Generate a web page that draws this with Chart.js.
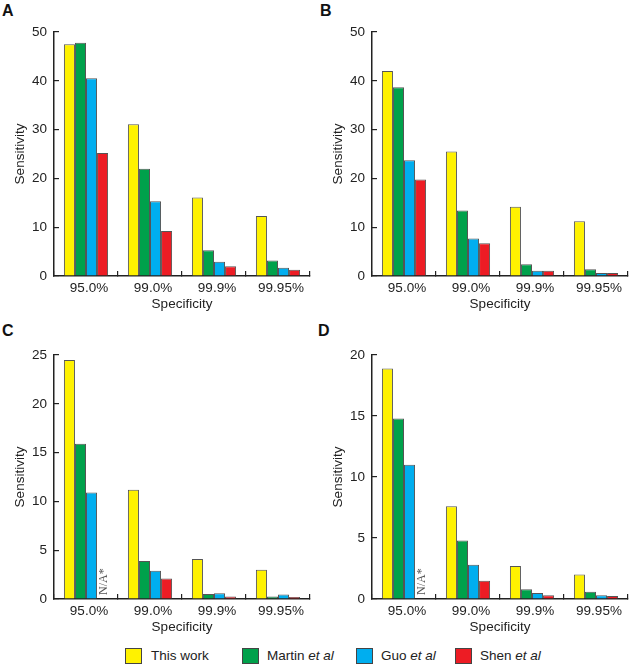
<!DOCTYPE html>
<html>
<head>
<meta charset="utf-8">
<script src="https://cdn.jsdelivr.net/npm/chart.js@4.4.0/dist/chart.umd.min.js"></script>
<style>
    body { margin: 0; background: #fff; width: 630px; height: 668px; position: relative; overflow: hidden; font-family: "Liberation Sans", Arial, sans-serif; color: #222; }
    canvas { position: absolute; }
    .tag { position: absolute; font-weight: bold; font-size: 16px; line-height: 16px; color: #111; }
    .box { position: absolute; top: 648px; width: 17px; height: 16px; box-sizing: border-box; border: 1px solid #444; }
    .key { position: absolute; top: 648px; font-size: 13.5px; line-height: 16px; white-space: nowrap; }
</style>
</head>
<body>
<div class="tag" style="left:2px;top:3px">A</div>
<div class="tag" style="left:320px;top:3px">B</div>
<div class="tag" style="left:2px;top:323px">C</div>
<div class="tag" style="left:318px;top:323px">D</div>

<canvas id="chartA" width="315" height="312" style="left:0;top:0"></canvas>
<canvas id="chartB" width="312" height="312" style="left:318px;top:0"></canvas>
<canvas id="chartC" width="315" height="312" style="left:0;top:323px"></canvas>
<canvas id="chartD" width="312" height="312" style="left:318px;top:323px"></canvas>

<div class="box" style="left:125px;background:#fff200"></div>
<div class="key" style="left:151px">This work</div>
<div class="box" style="left:242px;background:#00a14b"></div>
<div class="key" style="left:267px">Martin <i>et al</i></div>
<div class="box" style="left:356px;background:#00aeef"></div>
<div class="key" style="left:381px">Guo <i>et al</i></div>
<div class="box" style="left:455px;background:#ed1c24"></div>
<div class="key" style="left:480px">Shen <i>et al</i></div>

<script>
const specificity = ["95.0%", "99.0%", "99.9%", "99.95%"]
const seriesNames = ["This work", "Martin et al", "Guo et al", "Shen et al"]
const colours = ["#fff200", "#00a14b", "#00aeef", "#ed1c24"]

// panel A
const thisWorkA = [47.5, 31.1, 16.1, 12.3]
const martinA = [47.8, 22.0, 5.3, 3.2]
const guoA = [40.5, 15.3, 2.9, 1.7]
const shenA = [25.2, 9.2, 2.0, 1.3]
// panel B
const thisWorkB = [42.0, 25.5, 14.2, 11.2]
const martinB = [38.7, 13.4, 2.4, 1.4]
const guoB = [23.7, 7.7, 1.1, 0.6]
const shenB = [19.8, 6.7, 1.1, 0.6]
// panel C (no Shen value at 95.0%)
const thisWorkC = [24.5, 11.2, 4.1, 3.0]
const martinC = [15.9, 3.9, 0.5, 0.25]
const guoC = [10.9, 2.9, 0.6, 0.45]
const shenC = [null, 2.1, 0.25, 0.2]
// panel D (no Shen value at 95.0%)
const thisWorkD = [18.9, 7.6, 2.7, 2.0]
const martinD = [14.8, 4.8, 0.8, 0.6]
const guoD = [11.0, 2.8, 0.5, 0.3]
const shenD = [null, 1.5, 0.3, 0.25]

Chart.defaults.font.family = '"Liberation Sans", Arial, sans-serif'
Chart.defaults.font.size = 13.5
Chart.defaults.color = "#222"

// "N/A*" note written upright in the empty Shen slot
const naNote = {
    id: "naNote",
    afterDatasetsDraw(chart) {
        const { ctx, scales: { x, y } } = chart
        const bar = chart.getDatasetMeta(3).data[0]
        const px = bar && isFinite(bar.x) ? bar.x : x.getPixelForValue(0) + 16
        ctx.save()
        ctx.translate(px + 1.5, y.getPixelForValue(0) - 4)
        ctx.rotate(-Math.PI / 2)
        ctx.font = '12px "Liberation Serif", "DejaVu Serif", serif'
        ctx.fillStyle = "#555"
        ctx.textBaseline = "middle"
        ctx.fillText("N/A*", 0, 0)
        ctx.restore()
    }
}

function makePanel(id, sets, yMax, yStep, withNote) {
    const canvas = document.getElementById(id)
    return new Chart(canvas, {
        type: "bar",
        data: {
            labels: specificity,
            datasets: sets.map((d, i) => ({
                label: seriesNames[i],
                data: d,
                backgroundColor: colours[i],
                borderColor: "#555",
                borderWidth: 1,
                categoryPercentage: 0.69,
                barPercentage: 1
            }))
        },
        options: {
            responsive: false,
            animation: false,
            layout: { padding: { left: 0, right: canvas.width - 310, top: 32, bottom: 0 } },
            plugins: { legend: { display: false }, tooltip: { enabled: false } },
            scales: {
                x: {
                    grid: { offset: true, drawOnChartArea: false, tickLength: -5, color: "#222", lineWidth: 1.2 },
                    border: { color: "#222", width: 1.5 },
                    ticks: { padding: 9, labelOffset: 3, maxRotation: 0, autoSkip: false },
                    title: { display: true, text: "Specificity", padding: 0 },
                    afterFit: (s) => { s.height = 36 }
                },
                y: {
                    min: 0,
                    max: yMax,
                    ticks: { stepSize: yStep, padding: 12 },
                    grid: { drawOnChartArea: false, tickLength: -5, color: "#222", lineWidth: 1.2 },
                    border: { color: "#222", width: 1.5 },
                    title: { display: true, text: "Sensitivity", padding: { top: 12, bottom: 0 } },
                    afterFit: (s) => { s.width = 54 }
                }
            }
        },
        plugins: withNote ? [naNote] : []
    })
}

makePanel("chartA", [thisWorkA, martinA, guoA, shenA], 50, 10, false)
makePanel("chartB", [thisWorkB, martinB, guoB, shenB], 50, 10, false)
makePanel("chartC", [thisWorkC, martinC, guoC, shenC], 25, 5, true)
makePanel("chartD", [thisWorkD, martinD, guoD, shenD], 20, 5, true)
</script>
</body>
</html>
